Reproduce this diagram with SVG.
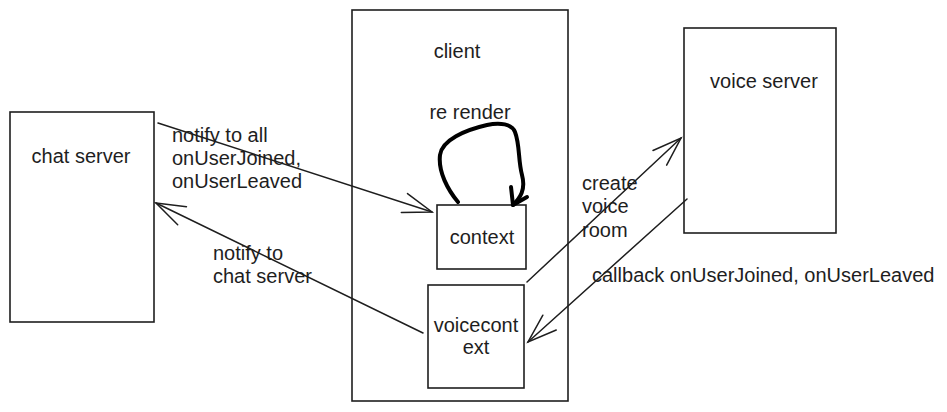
<svg xmlns="http://www.w3.org/2000/svg" width="947" height="412" viewBox="0 0 947 412">
<style>
.box{fill:#fff;stroke:#1e1e1e;stroke-width:1.6}
.t{font-family:"Liberation Sans",Arial,sans-serif;font-size:20px;fill:#1e1e1e}
.c{text-anchor:middle}
.conn{fill:none;stroke:#1e1e1e;stroke-width:1.5;stroke-linecap:round}
.loop{fill:none;stroke:#000;stroke-width:4;stroke-linecap:round;stroke-linejoin:round}
</style>
<defs>
<marker id="ah" markerUnits="userSpaceOnUse" markerWidth="40" markerHeight="30" refX="0" refY="0" orient="auto" overflow="visible">
<path d="M-29,-10 L0,0 L-29,10" fill="none" stroke="#1e1e1e" stroke-width="1.5" stroke-linecap="round"/>
</marker>
</defs>
<rect width="947" height="412" fill="#fff"/>
<g id="chat-server">
<rect class="box" x="10" y="112" width="144" height="210"/>
<text class="t c" x="81" y="163">chat server</text>
</g>
<g id="client">
<rect class="box" x="352" y="10" width="216" height="391"/>
<text class="t c" x="457" y="58">client</text>
</g>
<g id="voice-server">
<rect class="box" x="684" y="28" width="152" height="205"/>
<text class="t c" x="764" y="88">voice server</text>
</g>
<g id="context">
<rect class="box" x="437" y="205" width="89" height="64"/>
<text class="t c" x="482" y="244">context</text>
</g>
<g id="voicecontext">
<rect class="box" x="428" y="285" width="96" height="103"/>
<text class="t c" x="476" y="332">voicecont</text>
<text class="t c" x="476" y="354">ext</text>
</g>
<g id="connectors">
<line class="conn" x1="158" y1="123" x2="432" y2="212" marker-end="url(#ah)"/>
<line class="conn" x1="423" y1="333" x2="156" y2="203" marker-end="url(#ah)"/>
<line class="conn" x1="527" y1="282" x2="681" y2="138" marker-end="url(#ah)"/>
<line class="conn" x1="687" y1="199" x2="528" y2="342" marker-end="url(#ah)"/>
<path class="loop" d="M458,202 C448,190 438,172 440,155 C442,140 465,130 487,125 C500,122 512,124 515,132 C520,145 518,160 522,175 C526,190 520,198 513,205"/>
<path class="loop" d="M511,187 L513,205 L527,197"/>
</g>
<g id="labels">
<text class="t" x="470" y="119" text-anchor="middle">re render</text>
<text class="t" x="172" y="142">notify to all</text>
<text class="t" x="172" y="165">onUserJoined,</text>
<text class="t" x="172" y="188">onUserLeaved</text>
<text class="t" x="213" y="260">notify to</text>
<text class="t" x="213" y="283">chat server</text>
<text class="t" x="582" y="190">create</text>
<text class="t" x="582" y="213">voice</text>
<text class="t" x="582" y="237">room</text>
<text class="t" x="592" y="282">callback onUserJoined, onUserLeaved</text>
</g>
</svg>
